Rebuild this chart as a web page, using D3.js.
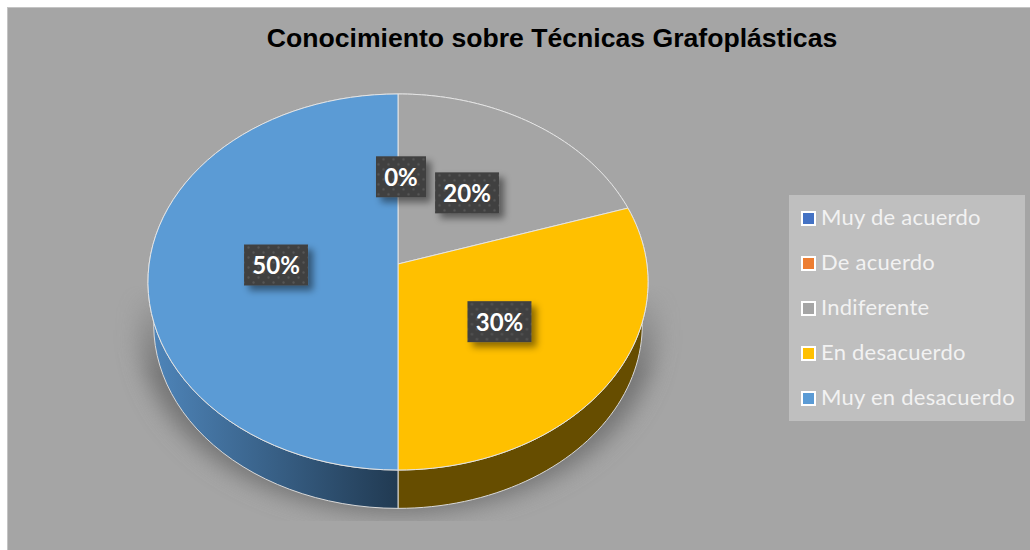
<!DOCTYPE html>
<meta charset="utf-8">
<style>
html, body { margin: 0; background: #fff; overflow: hidden; }
svg { display: block; }
.title { font: bold 26.6px "Liberation Sans", Arial, sans-serif; fill: #000; text-anchor: middle; }
.legend text { font: 22px Lato, sans-serif; letter-spacing: 0.25px; fill: #f2f2f2; }
.lab text { font: bold 24px Lato, sans-serif; fill: #fff; text-anchor: middle; }
</style>
<body>
<script src="https://d3js.org/d3.v7.min.js"></script>
<script>

var categories = ["Muy de acuerdo", "De acuerdo", "Indiferente", "En desacuerdo", "Muy en desacuerdo"];
var values = [0, 0, 20, 30, 50];
var labels = ["0%", "", "20%", "30%", "50%"];
var colors = ["#4472c4", "#ed7d31", "#a5a5a5", "#ffc000", "#5b9bd5"];
var sideColors = ["#2a4578", "#8f4b1d", "#636363", "#664d00", "#24405a"];

var width = 1030, height = 550;

var svg = d3.select("body").append("svg")
    .attr("width", width)
    .attr("height", height);

var defs = svg.append("defs");

// dark dotted fill behind the data labels
var pat = defs.append("pattern")
    .attr("id", "dots")
    .attr("patternUnits", "userSpaceOnUse")
    .attr("width", 10)
    .attr("height", 10);
pat.append("rect").attr("width", 10).attr("height", 10).attr("fill", "#404040");
pat.append("circle").attr("cx", 2.5).attr("cy", 2.5).attr("r", 1.2).attr("fill", "#555");
pat.append("circle").attr("cx", 7.5).attr("cy", 7.5).attr("r", 1.2).attr("fill", "#555");

var f = defs.append("filter").attr("id", "boxShadow")
    .attr("x", "-30%").attr("y", "-30%").attr("width", "170%").attr("height", "170%");
f.append("feDropShadow").attr("dx", 5).attr("dy", 5).attr("stdDeviation", 3.5)
    .attr("flood-color", "#000").attr("flood-opacity", 0.45);

var f2 = defs.append("filter").attr("id", "groundBlur")
    .attr("x", "-20%").attr("y", "-20%").attr("width", "140%").attr("height", "140%");
f2.append("feGaussianBlur").attr("stdDeviation", 11);

// ground shadow stops flat at the bottom and fades out going up
defs.append("clipPath").attr("id", "groundClip").append("rect")
    .attr("x", 8).attr("y", 200).attr("width", 1000).attr("height", 321);

var fade = defs.append("linearGradient").attr("id", "groundFade")
    .attr("gradientUnits", "userSpaceOnUse")
    .attr("x1", 0).attr("x2", 0).attr("y1", 285).attr("y2", 375);
fade.append("stop").attr("offset", "0%").attr("stop-color", "#000");
fade.append("stop").attr("offset", "100%").attr("stop-color", "#fff");
defs.append("mask").attr("id", "groundMask")
    .attr("maskUnits", "userSpaceOnUse")
    .attr("x", 0).attr("y", 0).attr("width", width).attr("height", height)
  .append("rect")
    .attr("width", width).attr("height", height)
    .attr("fill", "url(#groundFade)");

var blueSide = defs.append("linearGradient").attr("id", "blueSide")
    .attr("x1", 0).attr("x2", 1).attr("y1", 0).attr("y2", 0);
blueSide.append("stop").attr("offset", "0%").attr("stop-color", "#4f86bb");
blueSide.append("stop").attr("offset", "100%").attr("stop-color", "#213a52");

// chart area, runs off the right and bottom of the page
svg.append("rect")
    .attr("x", 7.5).attr("y", 7.5)
    .attr("width", 1040).attr("height", 560)
    .attr("fill", "#a5a5a5")
    .attr("stroke", "#c4c4c4");

svg.append("text").attr("class", "title")
    .attr("x", 552).attr("y", 47)
    .text("Conocimiento sobre Técnicas Grafoplásticas");

// tilted circle: the projection moves the apex above the middle of the ellipse
var cx = 398, apexY = 264, w = 248.9, h = 186.3, k = 0.0957;
var depth = 39, shrink = 0.977;

function project(a, r) {
    var u = r * Math.sin(a), v = r * Math.cos(a), s = 1 + k * v;
    return [cx + w * u / s, apexY - h * v / s];
}
function projectLow(a) {
    var p = project(a, 1);
    return [cx + (p[0] - cx) * shrink, apexY + depth + 8 + (p[1] - apexY - 4) * shrink];
}

var arcs = d3.pie().sort(null).value(function(d) { return d; })(values);
var line = d3.line();

function steps(a0, a1) {
    return d3.range(0, 61).map(function(i) { return a0 + (a1 - a0) * i / 60; });
}

// shadow on the ground
var ground = steps(0, 2 * Math.PI).map(function(a) {
    var p = projectLow(a);
    return [cx + (p[0] - cx) * 1.06, p[1] + 5];
});
svg.append("g").attr("clip-path", "url(#groundClip)")
  .append("g").attr("mask", "url(#groundMask)")
  .append("path")
    .attr("d", line(ground) + "Z")
    .attr("fill", "#757575")
    .attr("filter", "url(#groundBlur)");

// side walls
svg.append("g").selectAll("path")
    .data(arcs.filter(function(d) { return d.value > 0; }))
  .enter().append("path")
    .attr("d", function(d) {
        var a = steps(d.startAngle, d.endAngle);
        return line(a.map(function(x) { return project(x, 1); })
            .concat(a.slice().reverse().map(projectLow))) + "Z";
    })
    .attr("fill", function(d) { return d.index === 4 ? "url(#blueSide)" : sideColors[d.index]; })
    .attr("stroke", "#d9d9d9")
    .attr("stroke-width", 1);

// top slices
svg.append("g").selectAll("path")
    .data(arcs.filter(function(d) { return d.value > 0; }))
  .enter().append("path")
    .attr("d", function(d) {
        var a = steps(d.startAngle, d.endAngle);
        return line([[cx, apexY]].concat(a.map(function(x) { return project(x, 1); }))) + "Z";
    })
    .attr("fill", function(d) { return colors[d.index]; })
    .attr("stroke", "#e4e4e4")
    .attr("stroke-width", 1);

// data labels
var labelNudge = {0: [3, 0], 2: [0, 0], 3: [0, 2.5], 4: [0, 1]};
var lab = svg.append("g").attr("class", "lab").selectAll("g")
    .data(arcs.filter(function(d, i) { return labels[i] !== ""; }))
  .enter().append("g")
    .attr("transform", function(d) {
        var p = project((d.startAngle + d.endAngle) / 2, 0.49);
        var n = labelNudge[d.index];
        return "translate(" + (p[0] + n[0]) + "," + (p[1] + n[1]) + ")";
    });
lab.append("rect")
    .attr("x", function(d) { return d.value === 0 ? -25 : -32; })
    .attr("y", -20.5)
    .attr("width", function(d) { return d.value === 0 ? 50 : 64; })
    .attr("height", 41)
    .attr("fill", "url(#dots)")
    .attr("filter", "url(#boxShadow)");
lab.append("text")
    .attr("y", 9)
    .text(function(d) { return labels[d.index]; });

// legend
var legend = svg.append("g").attr("class", "legend");
var legendY = d3.scalePoint().domain(categories).range([218, 398]);
legend.append("rect")
    .attr("x", 789).attr("y", 195)
    .attr("width", 236).attr("height", 226)
    .attr("fill", "#bfbfbf");
var item = legend.selectAll("g")
    .data(categories)
  .enter().append("g")
    .attr("transform", function(d) { return "translate(802," + legendY(d) + ")"; });
item.append("rect")
    .attr("x", 0).attr("y", -6)
    .attr("width", 13).attr("height", 13)
    .attr("fill", function(d, i) { return colors[i]; })
    .attr("stroke", "#fff")
    .attr("stroke-width", 2);
item.append("text")
    .attr("x", 19).attr("y", 7)
    .text(function(d) { return d; });

</script>
